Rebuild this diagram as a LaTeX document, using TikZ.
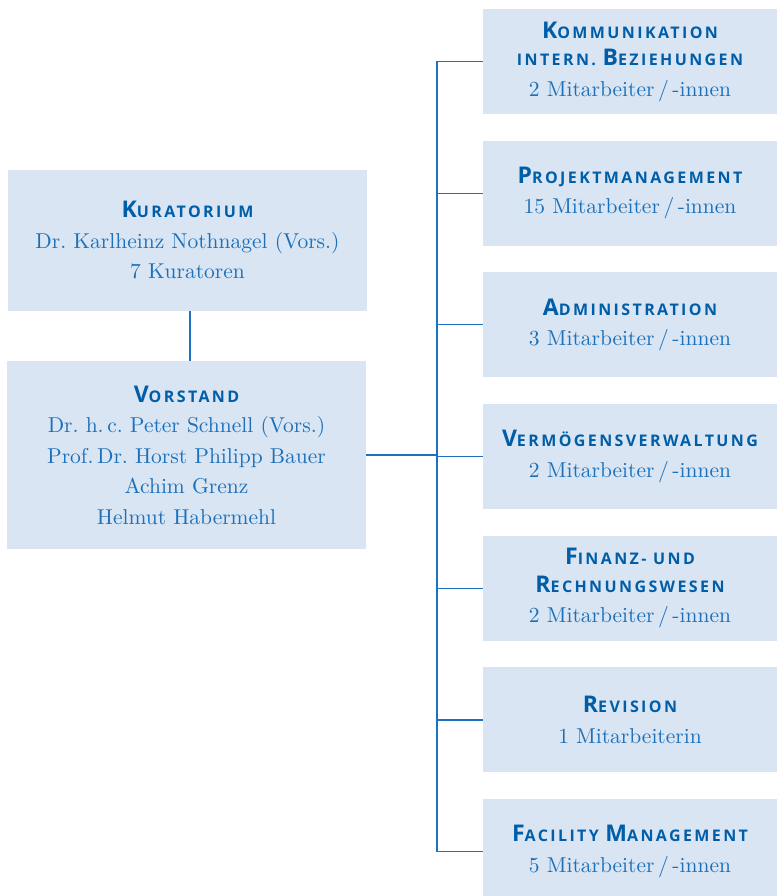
\documentclass[tikz,border=0pt]{standalone}
\usepackage{fontspec}
\usetikzlibrary{positioning}
\setmainfont{lmroman10-regular}[Extension=.otf]
\newfontfamily\headfont[LetterSpace=15]{Open Sans}
\definecolor{BoxFill}{RGB}{217,229,243}
\definecolor{HeadBlue}{RGB}{0,94,168}
\definecolor{TextBlue}{RGB}{28,112,186}
\definecolor{LineBlue}{RGB}{30,112,192}
\newcommand{\capl}[1]{{\fontsize{23}{23}\selectfont #1}}
\newcommand{\orghead}[1]{{\headfont\bfseries\fontsize{16}{26}\selectfont\color{HeadBlue}#1}}
\newcommand{\staff}[1]{#1 Mitarbeiter\,/\,-innen}
\frenchspacing

\begin{document}
\begin{tikzpicture}[x=1pt, y=1pt,
    orgbox/.style={rectangle, fill=BoxFill, inner sep=0pt, align=center, text=TextBlue, font=\fontsize{21.5}{30.5}\selectfont},
    boardbox/.style={orgbox, minimum width=359pt},
    unitbox/.style={orgbox, minimum width=294pt, minimum height=105pt},
    link/.style={LineBlue, line width=1.2pt}
  ]
    \useasboundingbox (0,0) rectangle (777,896);

    \node[boardbox, minimum height=141pt] (kur) at (187.5,655.5) {\orghead{\capl{K}URATORIUM}\\Dr. Karlheinz Nothnagel (Vors.)\\7 Kuratoren};
    \node[boardbox, minimum height=188pt] (vor) at (186.5,441) {\orghead{\capl{V}ORSTAND}\\Dr. h.\,c. Peter Schnell (Vors.)\\Prof.\,Dr. Horst Philipp Bauer\\Achim Grenz\\Helmut Habermehl};

    \node[unitbox] (u1) at (630,834.5) {\orghead{\capl{K}OMMUNIKATION}\\[-3pt]\orghead{INTERN. \capl{B}EZIEHUNGEN}\\\staff{2}};
    \node[unitbox, below=26.3pt of u1] (u2) {\orghead{\capl{P}ROJEKTMANAGEMENT}\\\staff{15}};
    \node[unitbox, below=26.3pt of u2] (u3) {\orghead{\capl{A}DMINISTRATION}\\\staff{3}};
    \node[unitbox, below=26.3pt of u3] (u4) {\orghead{\capl{V}ERMÖGENSVERWALTUNG}\\\staff{2}};
    \node[unitbox, below=26.3pt of u4] (u5) {\orghead{\capl{F}INANZ- UND}\\[-3pt]\orghead{\capl{R}ECHNUNGSWESEN}\\\staff{2}};
    \node[unitbox, below=26.3pt of u5] (u6) {\orghead{\capl{R}EVISION}\\1 Mitarbeiterin};
    \node[unitbox, below=26.3pt of u6] (u7) {\orghead{\capl{F}ACILITY \capl{M}ANAGEMENT}\\\staff{5}};

    % spine of the departments
    \coordinate (spine) at (437,0);
    \draw[link] (u1.west) -- (u1.west -| spine) -- (u7.west -| spine) -- (u7.west);
    \foreach \i in {2,...,6}
      \draw[link] (u\i.west) -- (u\i.west -| spine);

    \draw[link] (kur.south -| 190,0) -- (vor.north -| 190,0);
    \draw[link] (vor.east) -- (vor.east -| spine);
  \end{tikzpicture}
\end{document}
